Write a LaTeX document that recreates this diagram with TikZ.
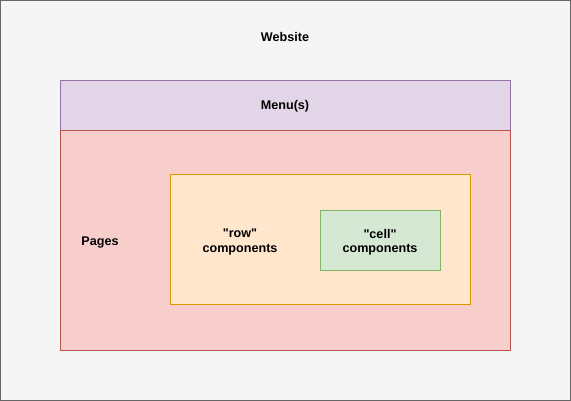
\documentclass[tikz,border=0pt]{standalone}
\usepackage{fontspec}
\setmainfont{Liberation Sans}
\begin{document}
\begin{tikzpicture}[x=1pt,y=-1pt,
  box/.style={draw, line width=1pt},
  lbl/.style={font=\fontsize{12.6}{14.5}\selectfont\bfseries, align=center, text=black, inner sep=0pt}]
\useasboundingbox (0,0) rectangle (571,401);
% outer frame
\draw[fill={rgb,255:red,245;green,245;blue,245}, draw={rgb,255:red,102;green,102;blue,102}, line width=1pt] (0.5,0.5) rectangle (570.5,400.5);
\node[lbl] (website) at (285,37) {Website};
% menu band
\draw[box, fill={rgb,255:red,225;green,213;blue,231}, draw={rgb,255:red,150;green,115;blue,166}] (60.5,80.5) rectangle (510.5,130.5);
\node[lbl] (menu) at (285,106.5) {Menu(s)};
% pages area
\draw[box, fill={rgb,255:red,248;green,206;blue,204}, draw={rgb,255:red,184;green,84;blue,80}] (60.5,130.5) rectangle (510.5,350.5);
\node[lbl] (pages) at (100,242.5) {Pages};
% row components
\draw[box, fill={rgb,255:red,255;green,230;blue,204}, draw={rgb,255:red,215;green,155;blue,0}] (170.5,174.5) rectangle (470.5,304.5);
\node[lbl] (row) at (240,242) {\textquotedbl row\textquotedbl\\components};
% cell components
\draw[box, fill={rgb,255:red,213;green,232;blue,212}, draw={rgb,255:red,130;green,179;blue,102}] (320.5,210.5) rectangle (440.5,270.5);
\node[lbl] (cell) at (380,242) {\textquotedbl cell\textquotedbl\\components};
\end{tikzpicture}
\end{document}
